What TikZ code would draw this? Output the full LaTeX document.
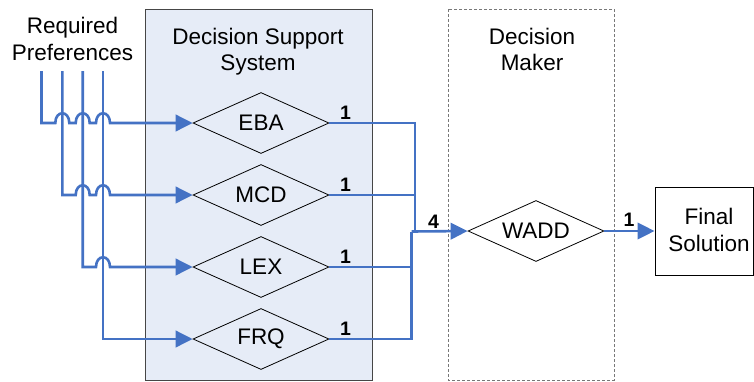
\documentclass[tikz,border=0pt]{standalone}
\usepackage{fontspec}
\setmainfont{Liberation Sans}
\usetikzlibrary{shapes.geometric,arrows.meta,calc}
\definecolor{flowblue}{RGB}{68,114,196}
\definecolor{dssfill}{RGB}{230,236,247}
\definecolor{dssline}{RGB}{70,70,70}
\definecolor{dmline}{RGB}{120,120,120}
\begin{document}
\begin{tikzpicture}[x=1pt,y=-1pt,
  txt/.style={font=\fontsize{22.5}{26.5}\selectfont, inner sep=0pt, align=center},
  num/.style={font=\fontsize{19.5}{22}\selectfont\bfseries, inner sep=0pt},
  dia/.style={draw=black, line width=0.8pt, diamond, aspect=2.23, minimum width=136pt, minimum height=61pt, inner sep=0pt, font=\fontsize{22.5}{26.5}\selectfont},
  flow/.style={draw=flowblue, line width=2.6pt},
  flowarr/.style={flow, -{Triangle[length=17pt,width=16.5pt]}},
  panel/.style={draw=dssline, fill=dssfill, line width=1pt},
  dmpanel/.style={draw=dmline, line width=1pt, dash pattern=on 3pt off 2pt},
]
\useasboundingbox (0,0) rectangle (754,381);

% panels
\draw[panel] (145,9) rectangle (372,380);
\draw[dmpanel] (448,9) rectangle (614,380);

% titles
\node[txt] (req) at (72.5,39) {Required\\Preferences};
\node[txt] (dsst) at (258,51.8) {Decision Support\\System};
\node[txt] (dmt) at (532,49.4) {Decision\\Maker};

% diamonds
\node[dia] (EBA) at (261,123) {EBA};
\node[dia] (MCD) at (261,195) {MCD};
\node[dia] (LEX) at (261,267) {LEX};
\node[dia] (FRQ) at (261,339) {FRQ};
\node[dia] (WADD) at (536,231) {WADD};

% final solution
\node[draw=black, line width=1pt, minimum width=98pt, minimum height=88pt, inner sep=0pt] (final) at (704,231) {};
\node[txt] (finaltxt) at (709,230) {Final\\Solution};

% input preference lines
\coordinate (p1) at (41.5,71);
\coordinate (p2) at (62.3,71);
\coordinate (p3) at (82.7,71);
\coordinate (p4) at (103,71);

\draw[flowarr] (p1) |- ([xshift=-7pt]p2|-EBA.west)
   .. controls +(0,-13) and +(0,-13) .. ([xshift=7pt]p2|-EBA.west)
   -- ([xshift=-7pt]p3|-EBA.west)
   .. controls +(0,-13) and +(0,-13) .. ([xshift=7pt]p3|-EBA.west)
   -- ([xshift=-7pt]p4|-EBA.west)
   .. controls +(0,-13) and +(0,-13) .. ([xshift=7pt]p4|-EBA.west)
   -- (EBA.west);
\draw[flowarr] (p2) |- ([xshift=-7pt]p3|-MCD.west)
   .. controls +(0,-13) and +(0,-13) .. ([xshift=7pt]p3|-MCD.west)
   -- ([xshift=-7pt]p4|-MCD.west)
   .. controls +(0,-13) and +(0,-13) .. ([xshift=7pt]p4|-MCD.west)
   -- (MCD.west);
\draw[flowarr] (p3) |- ([xshift=-7pt]p4|-LEX.west)
   .. controls +(0,-13) and +(0,-13) .. ([xshift=7pt]p4|-LEX.west)
   -- (LEX.west);
\draw[flowarr] (p4) |- (FRQ.west);

% outputs
\coordinate (jR) at (415,231.5);
\coordinate (jL) at (411.7,231.5);
\draw[flow] (EBA.east) -| (jR);
\draw[flow] (MCD.east) -- (MCD.east -| jR);
\draw[flow] (FRQ.east) -| (jL);
\draw[flow] (LEX.east) -- (LEX.east -| jL);
\draw[flowarr] (jL) -- (WADD.west);
\draw[flowarr] (WADD.east) -- (final.west);

% labels
\node[num] (l1) at (345.5,113) {1};
\node[num] (l2) at (345.5,185) {1};
\node[num] (l3) at (345.5,257) {1};
\node[num] (l4) at (345.5,329) {1};
\node[num] (l5) at (433.5,222) {4};
\node[num] (l6) at (629,220) {1};
\end{tikzpicture}
\end{document}
